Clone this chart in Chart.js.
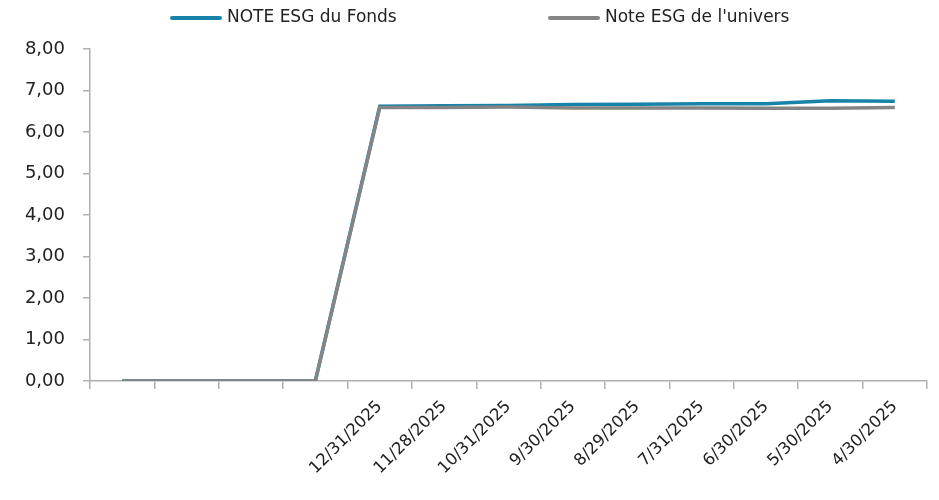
<!DOCTYPE html>
<html><head><meta charset="utf-8">
<script src="https://cdn.jsdelivr.net/npm/chart.js@4"></script>
<style>html,body{margin:0;padding:0;background:#fff}#wrap{width:939px;height:500px}</style>
</head><body><div id="wrap"><canvas id="c" width="939" height="500"></canvas></div>
<script>
const categories = ["", "", "", "", "12/31/2025", "11/28/2025", "10/31/2025", "9/30/2025", "8/29/2025", "7/31/2025", "6/30/2025", "5/30/2025", "4/30/2025"];
const fundScores = [0, 0, 0, 0, 6.62, 6.63, 6.64, 6.66, 6.67, 6.68, 6.68, 6.75, 6.74];
const universeScores = [0, 0, 0, 0, 6.59, 6.59, 6.60, 6.58, 6.58, 6.58, 6.57, 6.57, 6.59];
const seriesNames = ["NOTE ESG du Fonds", "Note ESG de l'univers"];
const yTicks = [0, 1, 2, 3, 4, 5, 6, 7, 8];

const FONT = "'DejaVu Sans', sans-serif";
const axisColor = '#b0b0b0';

const topLegend = {
  id: 'topLegend',
  afterDraw(chart) {
    const ctx = chart.ctx;
    const starts = [170, 548];
    ctx.save();
    ctx.font = "17px " + FONT;
    ctx.textBaseline = 'middle';
    ctx.textAlign = 'left';
    chart.data.datasets.forEach((ds, i) => {
      const x = starts[i], y = 18;
      ctx.strokeStyle = ds.borderColor;
      ctx.lineWidth = 4;
      ctx.lineCap = 'round';
      ctx.beginPath(); ctx.moveTo(x + 2, y); ctx.lineTo(x + 50, y); ctx.stroke();
      ctx.fillStyle = '#222';
      ctx.fillText(ds.label, x + 57, y);
    });
    ctx.restore();
  }
};

new Chart(document.getElementById('c'), {
  type: 'line',
  data: {
    labels: categories,
    datasets: [
      { label: seriesNames[0], data: fundScores, borderColor: '#1783a8', backgroundColor: '#1783a8', borderWidth: 3.5, pointRadius: 0, tension: 0, order: 1 },
      { label: seriesNames[1], data: universeScores, borderColor: '#858585', backgroundColor: '#858585', borderWidth: 3.5, pointRadius: 0, tension: 0, order: 0 }
    ]
  },
  plugins: [topLegend],
  options: {
    responsive: false,
    animation: false,
    devicePixelRatio: 1,
    layout: { padding: { left: 0, right: 12, top: 49, bottom: 0 } },
    plugins: {
      tooltip: { enabled: false },
      legend: { display: false }
    },
    scales: {
      x: {
        offset: true,
        grid: { offset: true, drawOnChartArea: false, color: axisColor, tickLength: 8, lineWidth: 1.5 },
        border: { color: axisColor, width: 1.5 },
        ticks: { font: { family: FONT, size: 16.5 }, color: '#222', minRotation: 45, maxRotation: 45, autoSkip: false, padding: 8 },
        afterFit: s => { s.height = 119; }
      },
      y: {
        min: 0, max: 8,
        afterBuildTicks: s => { s.ticks = yTicks.map(v => ({ value: v })); },
        grid: { drawOnChartArea: false, color: axisColor, tickLength: 7, lineWidth: 1.5 },
        border: { color: axisColor, width: 1.5 },
        ticks: { font: { family: FONT, size: 18 }, color: '#222', padding: 18, callback: v => v.toFixed(2).replace('.', ',') },
        afterFit: s => { s.width = 90; }
      }
    }
  }
});
</script></body></html>
